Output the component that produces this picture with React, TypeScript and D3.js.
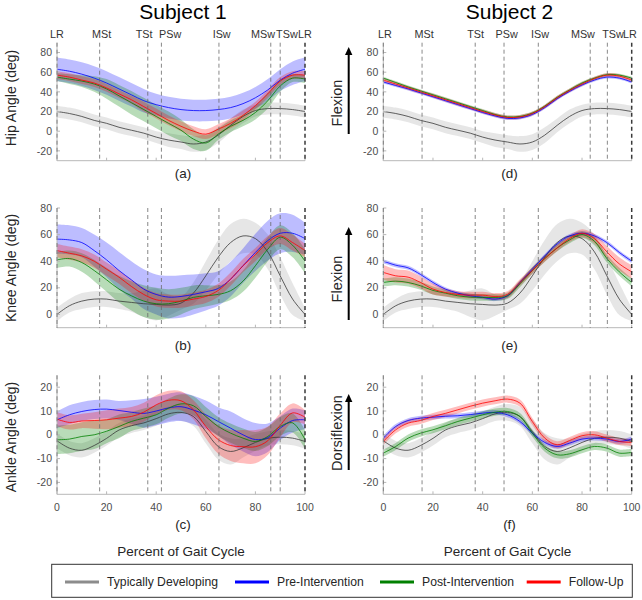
import React from 'react';
import * as d3 from 'd3';

// Percent of gait cycle sample points
const PCT = [0, 5, 10, 15, 20, 25, 30, 35, 40, 45, 50, 55, 60, 65, 70, 75, 80, 85, 90, 95, 100];

// Typically developing (normative) — same in both subjects
const TD_HIP = [20, 18, 15, 11, 8, 4, 1, -2, -6, -9, -11, -13, -11, -4, 6, 15, 21, 23, 23, 22, 20];
const TD_HIP_SD = [6, 6, 6, 6, 6, 6, 6, 6, 6, 7, 7, 8, 8, 8, 7, 7, 6, 6, 6, 6, 6];
const TD_KNEE = [0, 6.5, 10, 11.5, 11.5, 10, 9, 8, 7.5, 7, 8.5, 16, 29, 43, 54, 59, 57, 47, 29, 11.5, 0];
const TD_KNEE_SD = [5, 5, 6, 6, 6, 6, 7, 10, 12, 8, 5, 8, 11, 13, 14, 13, 12, 13, 14, 12, 5];
const TD_ANKLE = [-2.5, -5.6, -6.5, -4.5, -1.5, 2, 3.8, 5, 6.8, 8.8, 9.4, 7.7, 1.4, -4.9, -7, -5.5, -3.2, -1.5, -1, -1.4, -2.8];
const TD_ANKLE_SD = [3, 3, 3, 3, 3, 3, 3, 3, 3, 3, 3.5, 4, 5, 5.5, 5.5, 4, 3.5, 3, 3, 3, 3];

// Subject 1
const S1_HIP_PRE = [63, 61, 58, 54, 49, 43, 37, 31, 27, 24, 22, 21, 21, 22, 24, 28, 34, 42, 52, 59, 63];
const S1_HIP_PRE_SD = [12, 12, 12, 12, 12, 12, 12, 12, 11, 11, 11, 11, 11, 11, 11, 11, 11, 11, 11, 12, 12];
const S1_HIP_POST = [55, 53, 51, 48, 43, 36, 29, 22, 15, 8, 1, -8, -12, -3, 5, 11, 19, 31, 46, 54, 53];
const S1_HIP_POST_SD = [4, 5, 6, 8, 10, 11, 12, 12, 12, 12, 11, 10, 8, 6, 6, 6, 7, 8, 6, 4, 4];
const S1_HIP_FU = [57, 55, 52, 49, 44, 38, 32, 25, 18, 11, 5, 0, -3, 2, 8, 16, 26, 38, 51, 57, 57];
const S1_HIP_FU_SD = [4, 4, 4, 4, 4, 4, 4, 5, 5, 5, 5, 5, 5, 5, 5, 5, 4, 4, 4, 4, 4];

const S1_KNEE_PRE = [56.6, 56, 54, 48, 41, 33, 26, 19, 15, 13, 13.5, 15, 17, 19.5, 26.5, 36.6, 46.6, 55.5, 61, 61, 57];
const S1_KNEE_PRE_SD = [11, 11, 11, 12, 13, 14, 14, 15, 15, 16, 16, 15, 14, 13, 13, 13, 14, 15, 15, 14, 12];
const S1_KNEE_POST = [41, 42, 39, 33, 26, 19, 14, 10, 8, 8, 10, 12.8, 14, 15, 17.8, 25, 36.6, 49, 58, 52, 40];
const S1_KNEE_POST_SD = [6, 6, 7, 8, 9, 10, 11, 12, 12, 11, 10, 9, 8, 7, 7, 8, 9, 9, 9, 9, 9];
const S1_KNEE_FU = [48, 46, 44, 40, 34, 28, 21, 15, 11, 10, 10, 11.5, 13.5, 18, 26.5, 36.6, 45, 54, 59, 54, 48];
const S1_KNEE_FU_SD = [5, 5, 5, 5, 5, 5, 5, 5, 5, 5, 5, 5, 5, 5, 5, 5, 5, 5, 6, 6, 5];

const S1_ANKLE_PRE = [6.3, 8.4, 9.8, 10.6, 10.8, 10.2, 9.5, 9, 10, 11.3, 11.8, 10.4, 8.4, 5.6, 2.8, 0, -2, -1.2, 2.8, 6, 6.3];
const S1_ANKLE_PRE_SD = [3.5, 4, 4, 4, 4, 4, 5, 6, 6, 6, 6, 6, 6, 6, 7, 7, 7, 6, 5, 5, 4];
const S1_ANKLE_POST = [-2.1, -1.8, -0.7, 0, 1.5, 3.5, 5.6, 7, 8.4, 11.2, 13, 12.2, 7.7, 3.5, 0.7, -1.4, -2.8, -0.7, 3.5, 5, -2];
const S1_ANKLE_POST_SD = [6, 6, 6, 6, 5, 5, 4, 4, 4, 4, 4, 4, 4, 4, 4, 4, 4, 4, 4, 4, 4];
const S1_ANKLE_FU = [6.6, 5.2, 5.8, 6, 6.3, 7, 7.7, 9.5, 12.6, 14.5, 14.3, 10.5, 3.5, -2, -4.5, -5, -5, -2.5, 4, 9.2, 7.4];
const S1_ANKLE_FU_SD = [3, 3, 3, 3.5, 4, 4, 4, 4, 4, 4, 4, 4, 5, 6, 6.5, 7, 7, 6, 5, 4, 3];

// Subject 2
const S2_HIP_PRE = [50, 46.5, 43, 39, 35, 31, 27, 23, 19, 15.5, 13, 13.5, 17, 24, 33, 40.5, 47, 52, 55, 54, 50];
const S2_HIP_PRE_SD = [1.5, 1.5, 1.5, 1.5, 1.5, 1.5, 1.5, 1.5, 1.5, 1.5, 1.5, 1.5, 1.5, 1.5, 1.5, 1.5, 1.5, 1.5, 1.5, 1.5, 1.5];
const S2_HIP_POST = [54, 49.5, 45, 41, 37, 33, 29, 25, 21, 17, 14.5, 15, 18.5, 25.5, 34.5, 42, 49, 54, 57.5, 57, 54];
const S2_HIP_POST_SD = [1.5, 1.5, 1.5, 1.5, 1.5, 1.5, 1.5, 1.5, 1.5, 1.5, 1.5, 1.5, 1.5, 1.5, 1.5, 1.5, 1.5, 1.5, 1.5, 1.5, 1.5];
const S2_HIP_FU = [52, 48, 44, 40, 36, 32, 28, 24, 20, 16.5, 14, 14.5, 18, 25, 34, 41.5, 48, 53.5, 57, 56, 52];
const S2_HIP_FU_SD = [2, 2, 2, 2, 2, 2, 2, 2, 2, 2, 2, 2, 2, 2, 2, 2, 2, 2, 2, 2, 2];

const S2_KNEE_PRE = [40, 37, 35, 30, 24, 19, 16, 14, 12.8, 11.5, 14, 24, 34, 44, 53, 59, 61, 59, 54, 46.6, 40];
const S2_KNEE_PRE_SD = [1.5, 1.5, 1.5, 1.5, 1.5, 1.5, 1.5, 1.5, 1.5, 1.5, 1.5, 1.5, 1.5, 1.5, 1.5, 1.5, 1.5, 1.5, 1.5, 1.5, 1.5];
const S2_KNEE_POST = [24, 25, 24, 21.5, 18, 16, 14, 13, 12.8, 12.8, 14, 23, 33, 42, 50, 56, 60, 55, 42, 32, 24];
const S2_KNEE_POST_SD = [3, 3, 3, 3, 3, 2.5, 2.5, 2.5, 2.5, 2.5, 2.5, 2.5, 2.5, 2.5, 2.5, 2.5, 2.5, 3, 3, 3, 3];
const S2_KNEE_FU = [31.6, 29, 28, 24, 19, 16.5, 15, 14.5, 14.5, 13.5, 15, 24, 33, 42, 50, 57, 61, 57, 47, 38, 32];
const S2_KNEE_FU_SD = [5.5, 5, 5, 4.5, 4, 3, 2.5, 2.5, 2.5, 2.5, 2.5, 2.5, 2.5, 2.5, 2.5, 2.5, 3, 3.5, 4.5, 5, 5];

const S2_ANKLE_PRE = [-1.4, 3.5, 6, 7, 7.4, 7.8, 8, 8.5, 9.1, 9.4, 8.4, 5.6, 0.7, -3.2, -4.9, -3.5, -1.8, -1.4, -1.8, -2.8, -1.8];
const S2_ANKLE_PRE_SD = [1, 1, 1, 1, 1, 1, 1, 1, 1, 1, 1, 1, 1, 1, 1, 1, 1, 1, 1, 1, 1];
const S2_ANKLE_POST = [-7.7, -4.9, -1.4, 0.7, 2.1, 3.8, 5.6, 7, 8.4, 9.5, 9.8, 7.7, 0.7, -5.6, -8.4, -8, -6.3, -4.9, -5.6, -7.7, -7.4];
const S2_ANKLE_POST_SD = [1.5, 1.5, 1.5, 1.5, 1.5, 1.5, 1.5, 1.5, 1.5, 1.5, 1.5, 1.5, 1.5, 1.5, 1.5, 1.5, 1.5, 1.5, 1.5, 1.5, 1.5];
const S2_ANKLE_FU = [-2.8, 2.1, 4.9, 6, 7.7, 9, 10.5, 12, 13.3, 14.3, 15, 13.3, 5.6, -1.4, -4.2, -2.4, -0.4, 0, -1.4, -2.8, -3.2];
const S2_ANKLE_FU_SD = [1.5, 1.5, 1.5, 1.5, 1.5, 1.5, 1.5, 1.5, 1.5, 1.5, 1.5, 1.5, 1.5, 1.5, 1.5, 1.5, 1.5, 1.5, 1.5, 1.5, 1.5];

// Gait phases
const PHASE_NAMES = ['LR', 'MSt', 'TSt', 'PSw', 'ISw', 'MSw', 'TSw', 'LR'];
const S1_PHASES = [0, 17.2, 36.6, 42.1, 65.3, 86.2, 90, 100];
const S2_PHASES = [0, 15.6, 37, 48.6, 62.4, 83.3, 90.2, 100];

// Axis ticks
const X_TICKS = [0, 20, 40, 60, 80, 100];
const HIP_TICKS = [-20, 0, 20, 40, 60, 80];
const KNEE_TICKS = [0, 20, 40, 60, 80];
const ANKLE_TICKS = [-20, -10, 0, 10, 20];

const LEGEND_LABELS = ['Typically Developing', 'Pre-Intervention', 'Post-Intervention', 'Follow-Up'];

const STYLE = {
  td: { line: '#3a3a3a', band: 'rgba(128,128,128,0.2)', legend: '#8c8c8c' },
  pre: { line: '#0000ff', band: 'rgba(0,0,255,0.26)', legend: '#0000ff' },
  post: { line: '#008000', band: 'rgba(0,128,0,0.28)', legend: '#008000' },
  fu: { line: '#ff0000', band: 'rgba(255,0,0,0.26)', legend: '#ff0000' },
};

const FONT = '"Liberation Sans", Arial, Helvetica, sans-serif';

type S = { mean: number[]; sd: number[]; key: keyof typeof STYLE };

const COLS = [
  { x0: 57, x1: 305, phases: S1_PHASES, dx: [0, 2, -3.7, 8.7, 2.7, -7.7, 6.7, 0], title: 'Subject 1' },
  { x0: 383.3, x1: 631.7, phases: S2_PHASES, dx: [1.7, 2, 0.4, 2.7, 1.7, -7.3, 5.7, -1.7], title: 'Subject 2' },
];

const ROWS = [
  { top: 42.7, bottom: 160.7, domain: [-30, 90], ticks: HIP_TICKS, ylabel: 'Hip Angle (deg)', labelY: 98, side: 'Flexion', sideY: 103, arrow: [47, 134], letterY: 178 },
  { top: 208, bottom: 327.7, domain: [-10, 80], ticks: KNEE_TICKS, ylabel: 'Knee Angle (deg)', labelY: 268, side: 'Flexion', sideY: 279, arrow: [227, 320], letterY: 350 },
  { top: 375.3, bottom: 494.3, domain: [-25, 25], ticks: ANKLE_TICKS, ylabel: 'Ankle Angle (deg)', labelY: 437, side: 'Dorsiflexion', sideY: 433, arrow: [394, 470], letterY: 529 },
];

const SERIES: S[][][] = [
  [
    [
      { mean: TD_HIP, sd: TD_HIP_SD, key: 'td' },
      { mean: S1_HIP_PRE, sd: S1_HIP_PRE_SD, key: 'pre' },
      { mean: S1_HIP_POST, sd: S1_HIP_POST_SD, key: 'post' },
      { mean: S1_HIP_FU, sd: S1_HIP_FU_SD, key: 'fu' },
    ],
    [
      { mean: TD_KNEE, sd: TD_KNEE_SD, key: 'td' },
      { mean: S1_KNEE_PRE, sd: S1_KNEE_PRE_SD, key: 'pre' },
      { mean: S1_KNEE_POST, sd: S1_KNEE_POST_SD, key: 'post' },
      { mean: S1_KNEE_FU, sd: S1_KNEE_FU_SD, key: 'fu' },
    ],
    [
      { mean: TD_ANKLE, sd: TD_ANKLE_SD, key: 'td' },
      { mean: S1_ANKLE_PRE, sd: S1_ANKLE_PRE_SD, key: 'pre' },
      { mean: S1_ANKLE_POST, sd: S1_ANKLE_POST_SD, key: 'post' },
      { mean: S1_ANKLE_FU, sd: S1_ANKLE_FU_SD, key: 'fu' },
    ],
  ],
  [
    [
      { mean: TD_HIP, sd: TD_HIP_SD, key: 'td' },
      { mean: S2_HIP_PRE, sd: S2_HIP_PRE_SD, key: 'pre' },
      { mean: S2_HIP_POST, sd: S2_HIP_POST_SD, key: 'post' },
      { mean: S2_HIP_FU, sd: S2_HIP_FU_SD, key: 'fu' },
    ],
    [
      { mean: TD_KNEE, sd: TD_KNEE_SD, key: 'td' },
      { mean: S2_KNEE_PRE, sd: S2_KNEE_PRE_SD, key: 'pre' },
      { mean: S2_KNEE_POST, sd: S2_KNEE_POST_SD, key: 'post' },
      { mean: S2_KNEE_FU, sd: S2_KNEE_FU_SD, key: 'fu' },
    ],
    [
      { mean: TD_ANKLE, sd: TD_ANKLE_SD, key: 'td' },
      { mean: S2_ANKLE_PRE, sd: S2_ANKLE_PRE_SD, key: 'pre' },
      { mean: S2_ANKLE_POST, sd: S2_ANKLE_POST_SD, key: 'post' },
      { mean: S2_ANKLE_FU, sd: S2_ANKLE_FU_SD, key: 'fu' },
    ],
  ],
];

const LETTERS = [['(a)', '(b)', '(c)'], ['(d)', '(e)', '(f)']];

function Panel({ ci, ri }: { ci: number; ri: number }) {
  const col = COLS[ci];
  const row = ROWS[ri];
  const x = d3.scaleLinear().domain([0, 100]).range([col.x0, col.x1]);
  const y = d3.scaleLinear().domain(row.domain).range([row.bottom, row.top]);
  const series = SERIES[ci][ri];
  const curve = d3.curveCatmullRom.alpha(0.5);
  const area = (s: S) =>
    d3
      .area<number>()
      .x((_, i) => x(PCT[i]))
      .y0((m, i) => y(m - s.sd[i]))
      .y1((m, i) => y(m + s.sd[i]))
      .curve(curve)(s.mean) || '';
  const line = d3
    .line<number>()
    .x((_, i) => x(PCT[i]))
    .y((m) => y(m))
    .curve(curve);
  const clipId = `clip-${ci}-${ri}`;
  const axisColor = '#b8b8b8';
  const cx = (col.x0 + col.x1) / 2;
  return (
    <g>
      <defs>
        <clipPath id={clipId}>
          <rect x={col.x0} y={row.top} width={col.x1 - col.x0} height={row.bottom - row.top} />
        </clipPath>
      </defs>
      <g clipPath={`url(#${clipId})`}>
        {series.map((s, i) => (
          <path key={'b' + i} d={area(s)} fill={STYLE[s.key].band} stroke="none" />
        ))}
        {series.map((s, i) => (
          <path key={'l' + i} d={line(s.mean) || ''} fill="none" stroke={STYLE[s.key].line} strokeWidth={0.8} />
        ))}
      </g>
      {/* axes */}
      <line x1={col.x0} x2={col.x0} y1={row.top} y2={row.bottom} stroke={axisColor} strokeWidth={1} />
      <line x1={col.x0} x2={col.x1} y1={row.bottom} y2={row.bottom} stroke={axisColor} strokeWidth={1} />
      {row.ticks.map((t) => (
        <g key={'yt' + t}>
          <line x1={col.x0} x2={col.x0 + 3} y1={y(t)} y2={y(t)} stroke={axisColor} />
          <text x={col.x0 - 5} y={y(t)} dy="0.35em" textAnchor="end" fontSize={10.5} fill="#4d4d4d" fontFamily={FONT}>
            {t}
          </text>
        </g>
      ))}
      {X_TICKS.map((t) => (
        <g key={'xt' + t}>
          <line x1={x(t)} x2={x(t)} y1={row.bottom} y2={row.bottom - 3} stroke={axisColor} />
          {ri === 2 && (
            <text x={x(t)} y={row.bottom + 17} textAnchor="middle" fontSize={10.5} fill="#4d4d4d" fontFamily={FONT}>
              {t}
            </text>
          )}
        </g>
      ))}
      {/* phase lines */}
      {col.phases.map((p, i) => (
        <line
          key={'ph' + i}
          x1={x(p)}
          x2={x(p)}
          y1={row.top}
          y2={row.bottom}
          stroke={i === col.phases.length - 1 ? '#3a3a3a' : '#6a6a6a'}
          strokeWidth={i === col.phases.length - 1 ? 1.5 : 0.8}
          strokeDasharray="4,3"
        />
      ))}
      {ri === 0 &&
        col.phases.map((p, i) => (
          <text key={'pl' + i} x={x(p) + col.dx[i]} y={row.top - 5} textAnchor="middle" fontSize={10.8} fill="#333" fontFamily={FONT}>
            {PHASE_NAMES[i]}
          </text>
        ))}
      <text x={cx + 2} y={row.letterY} textAnchor="middle" fontSize={13.5} fill="#262626" fontFamily={FONT}>
        {LETTERS[ci][ri]}
      </text>
      {ci === 0 ? (
        <text
          transform={`translate(16,${row.labelY}) rotate(-90)`}
          textAnchor="middle"
          fontSize={14}
          fill="#262626"
          fontFamily={FONT}
        >
          {row.ylabel}
        </text>
      ) : (
        <g>
          <text
            transform={`translate(342,${row.sideY}) rotate(-90)`}
            textAnchor="middle"
            fontSize={14.5}
            fill="#262626"
            fontFamily={FONT}
          >
            {row.side}
          </text>
          <line x1={348.7} x2={348.7} y1={row.arrow[1]} y2={row.arrow[0] + 6} stroke="#000" strokeWidth={2} />
          <path d={`M${348.7},${row.arrow[0]} L${345},${row.arrow[0] + 8} L${352.4},${row.arrow[0] + 8} Z`} fill="#000" />
        </g>
      )}
    </g>
  );
}

export default function App() {
  const legendKeys: (keyof typeof STYLE)[] = ['td', 'pre', 'post', 'fu'];
  const legendLineX = [65, 235, 380, 526.7];
  return (
    <svg
      width={642}
      height={600}
      viewBox="0 0 642 600"
      style={{ position: 'absolute', left: 0, top: 0, background: '#fff' }}
    >
      <rect x={0} y={0} width={642} height={600} fill="#fff" />
      {COLS.map((c, ci) => (
        <text key={'t' + ci} x={(c.x0 + c.x1) / 2 + 2} y={19} textAnchor="middle" fontSize={21} fill="#000" fontFamily={FONT}>
          {c.title}
        </text>
      ))}
      {COLS.map((_, ci) => ROWS.map((_, ri) => <Panel key={`${ci}-${ri}`} ci={ci} ri={ri} />))}
      {COLS.map((c, ci) => (
        <text key={'xl' + ci} x={(c.x0 + c.x1) / 2} y={556} textAnchor="middle" fontSize={13.5} fill="#262626" fontFamily={FONT}>
          Percent of Gait Cycle
        </text>
      ))}
      <rect x={51.7} y={564.3} width={580.6} height={33} fill="#fff" stroke="#333" strokeWidth={1} />
      {legendKeys.map((k, i) => (
        <g key={'lg' + k}>
          <line x1={legendLineX[i]} x2={legendLineX[i] + 34} y1={582} y2={582} stroke={STYLE[k].legend} strokeWidth={3} />
          <text x={legendLineX[i] + 42} y={586} fontSize={12.2} fill="#262626" fontFamily={FONT}>
            {LEGEND_LABELS[i]}
          </text>
        </g>
      ))}
    </svg>
  );
}
